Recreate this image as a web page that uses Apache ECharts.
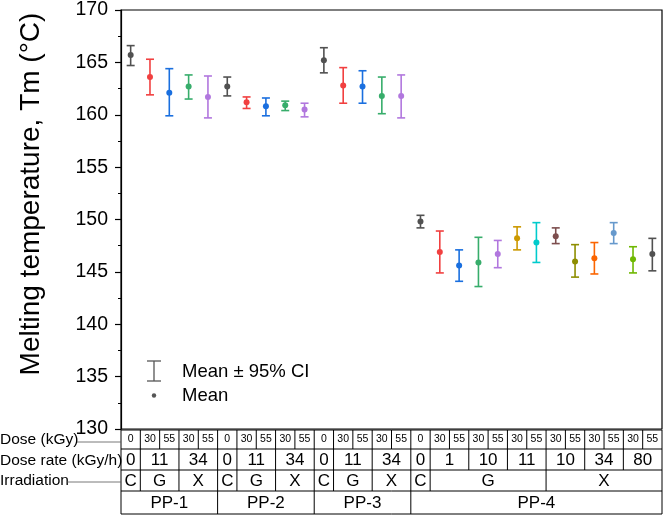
<!DOCTYPE html>
<html><head><meta charset="utf-8">
<script src="https://cdn.jsdelivr.net/npm/echarts@6/dist/echarts.min.js"></script>
<style>html,body{margin:0;padding:0;background:#fff}#c{width:664px;height:515px}</style>
</head><body><div id="c"></div>
<script>
// ---- data ----
const categories = ['PP-1 C 0','PP-1 G 30','PP-1 G 55','PP-1 X 30','PP-1 X 55',
  'PP-2 C 0','PP-2 G 30','PP-2 G 55','PP-2 X 30','PP-2 X 55',
  'PP-3 C 0','PP-3 G 30','PP-3 G 55','PP-3 X 30','PP-3 X 55',
  'PP-4 C 0','PP-4 G1 30','PP-4 G1 55','PP-4 G10 30','PP-4 G10 55','PP-4 G11 30','PP-4 G11 55',
  'PP-4 X10 30','PP-4 X10 55','PP-4 X34 30','PP-4 X34 55','PP-4 X80 30','PP-4 X80 55'];
const doses = ['0','30','55','30','55','0','30','55','30','55','0','30','55','30','55',
  '0','30','55','30','55','30','55','30','55','30','55','30','55'];
const doseRates = [['0',1],['11',2],['34',2],['0',1],['11',2],['34',2],['0',1],['11',2],['34',2],
  ['0',1],['1',2],['10',2],['11',2],['10',2],['34',2],['80',2]];
const irradiations = [['C',1],['G',2],['X',2],['C',1],['G',2],['X',2],['C',1],['G',2],['X',2],
  ['C',1],['G',6],['X',6]];
const samples = [['PP-1',5],['PP-2',5],['PP-3',5],['PP-4',13]];
const means = [165.7,163.6,162.1,162.7,161.7, 162.7,161.2,160.8,160.9,160.5,
  165.2,162.8,162.7,161.8,161.8, 149.8,146.9,145.6,145.9,146.7,148.2,147.8,148.4,146.0,146.3,148.7,146.2,146.7];
const lowerCI = [164.7,161.9,159.9,161.5,159.7, 161.8,160.6,159.9,160.4,159.8,
  164.0,161.1,161.1,160.1,159.7, 149.2,144.9,144.1,143.6,145.4,147.1,145.9,147.7,144.5,144.8,147.7,144.9,145.1];
const upperCI = [166.6,165.3,164.4,163.8,163.7, 163.6,161.7,161.6,161.3,161.1,
  166.4,164.5,164.2,163.6,163.8, 150.4,148.9,147.1,148.3,148.0,149.3,149.7,149.2,147.6,147.8,149.7,147.4,148.2];
const yTicks = [130,135,140,145,150,155,160,165,170];

// ---- styles ----
const palette = ['#515151','#F14040','#1A6FDF','#37AD6B','#B177DE','#CC9900','#00CBCC','#7D4E4E','#8E8E00','#FB6501','#6699CC','#6FB802'];
const colorIdx = [0,1,2,3,4, 0,1,2,3,4, 0,1,2,3,4, 0,1,2,3,4,5,6,7,8,9,10,11,0];
const FONT = 'Liberation Sans, Arial, sans-serif';

const chart = echarts.init(document.getElementById('c'), null, {renderer:'canvas'});
const errData = categories.map((c,i)=>[i, lowerCI[i], upperCI[i]]);

chart.setOption({
  animation:false,
  backgroundColor:'#fff',
  grid:{left:121, right:2, top:9, bottom:86, show:true, borderColor:'#000', borderWidth:1.2, backgroundColor:'transparent'},
  xAxis:{type:'category', data:categories, boundaryGap:true,
    axisLine:{show:false}, axisTick:{show:false}, axisLabel:{show:false}, splitLine:{show:false}},
  yAxis:{type:'value', min:yTicks[0], max:yTicks[yTicks.length-1], interval:5,
    axisLine:{show:true, lineStyle:{color:'#000', width:1.2}},
    axisTick:{show:true, inside:false, length:6, lineStyle:{color:'#000', width:1.2}},
    minorTick:{show:true, splitNumber:2, length:3, lineStyle:{color:'#000', width:1}},
    axisLabel:{fontSize:19.5, color:'#000', fontFamily:FONT, margin:13},
    splitLine:{show:false}},
  series:[
    {type:'custom', name:'Mean ± 95% CI', data:errData, z:2,
      renderItem:function(params, api){
        const i = api.value(0);
        const lo = api.coord([i, api.value(1)]);
        const hi = api.coord([i, api.value(2)]);
        const c = palette[colorIdx[params.dataIndex]];
        const hw = 4;
        const st = {stroke:c, lineWidth:1.6, fill:null};
        return {type:'group', children:[
          {type:'line', shape:{x1:lo[0],y1:lo[1],x2:hi[0],y2:hi[1]}, style:st},
          {type:'line', shape:{x1:lo[0]-hw,y1:lo[1],x2:lo[0]+hw,y2:lo[1]}, style:st},
          {type:'line', shape:{x1:hi[0]-hw,y1:hi[1],x2:hi[0]+hw,y2:hi[1]}, style:st}
        ]};
      }},
    {type:'scatter', name:'Mean', data:means, symbol:'circle', symbolSize:6, z:3,
      itemStyle:{opacity:1, color:function(p){return palette[colorIdx[p.dataIndex]];}}}
  ]
});

// ---- table below axis and legend (graphic) ----
function buildGraphics(){
  const c0 = chart.convertToPixel({xAxisIndex:0}, 0);
  const c1 = chart.convertToPixel({xAxisIndex:0}, 1);
  const w = c1 - c0;
  const bx = k => c0 - w/2 + k*w;
  const rowY = [430, 449, 470, 491, 514];
  const N = categories.length;
  const xL = bx(0), xR = bx(N);
  const g = [];
  const ls = {stroke:'#000', lineWidth:1};
  rowY.forEach(y => g.push({type:'line', shape:{x1:xL, y1:y, x2:xR, y2:y}, style:ls}));
  g.push({type:'line', shape:{x1:xL, y1:rowY[0], x2:xL, y2:rowY[4]}, style:ls});
  g.push({type:'line', shape:{x1:xR, y1:rowY[0], x2:xR, y2:rowY[4]}, style:ls});
  doses.forEach((d,k)=>{
    if(k>0) g.push({type:'line', shape:{x1:bx(k), y1:rowY[0], x2:bx(k), y2:rowY[1]}, style:ls});
    g.push({type:'text', x:(bx(k)+bx(k+1))/2, y:(rowY[0]+rowY[1])/2,
      style:{text:d, fontSize:10.5, fontFamily:FONT, fill:'#000', align:'center', verticalAlign:'middle'}});
  });
  function spanRow(arr, r, fs){
    let k = 0;
    arr.forEach((s,j)=>{
      const k2 = k + s[1];
      if(j>0) g.push({type:'line', shape:{x1:bx(k), y1:rowY[r], x2:bx(k), y2:rowY[r+1]}, style:ls});
      g.push({type:'text', x:(bx(k)+bx(k2))/2, y:(rowY[r]+rowY[r+1])/2+1,
        style:{text:s[0], fontSize:fs, fontFamily:FONT, fill:'#000', align:'center', verticalAlign:'middle'}});
      k = k2;
    });
  }
  spanRow(doseRates, 1, 17);
  spanRow(irradiations, 2, 17);
  spanRow(samples, 3, 17);
  const lab = (t, y) => ({type:'text', x:0, y:y, style:{text:t, fontSize:15.5, fontFamily:FONT, fill:'#000', align:'left', verticalAlign:'middle'}});
  g.push(lab('Dose (kGy)', 440));
  g.push({type:'line', shape:{x1:77, y1:442, x2:xL, y2:442}, style:{stroke:'#555', lineWidth:0.8}});
  g.push(lab('Dose rate (kGy/h)', 461));
  g.push(lab('Irradiation', 481));
  g.push({type:'line', shape:{x1:67, y1:482, x2:xL, y2:482}, style:{stroke:'#555', lineWidth:0.8}});
  g.push({type:'text', x:31, y:194, rotation:Math.PI/2,
    style:{text:'Melting temperature, Tm (°C)', fontSize:28, fontFamily:FONT, fill:'#000', align:'center', verticalAlign:'middle'}});
  const lc = {stroke:'#555', lineWidth:1.3};
  g.push({type:'line', shape:{x1:154, y1:361, x2:154, y2:381}, style:lc});
  g.push({type:'line', shape:{x1:147, y1:361, x2:161, y2:361}, style:lc});
  g.push({type:'line', shape:{x1:147, y1:381, x2:161, y2:381}, style:lc});
  g.push({type:'circle', shape:{cx:154, cy:395.5, r:2.2}, style:{fill:'#555'}});
  g.push({type:'text', x:182, y:372, style:{text:'Mean ± 95% CI', fontSize:18.5, fontFamily:FONT, fill:'#000', align:'left', verticalAlign:'middle'}});
  g.push({type:'text', x:182, y:396, style:{text:'Mean', fontSize:18.5, fontFamily:FONT, fill:'#000', align:'left', verticalAlign:'middle'}});
  chart.setOption({graphic:{elements:g}});
}
buildGraphics();
</script>
</body></html>
